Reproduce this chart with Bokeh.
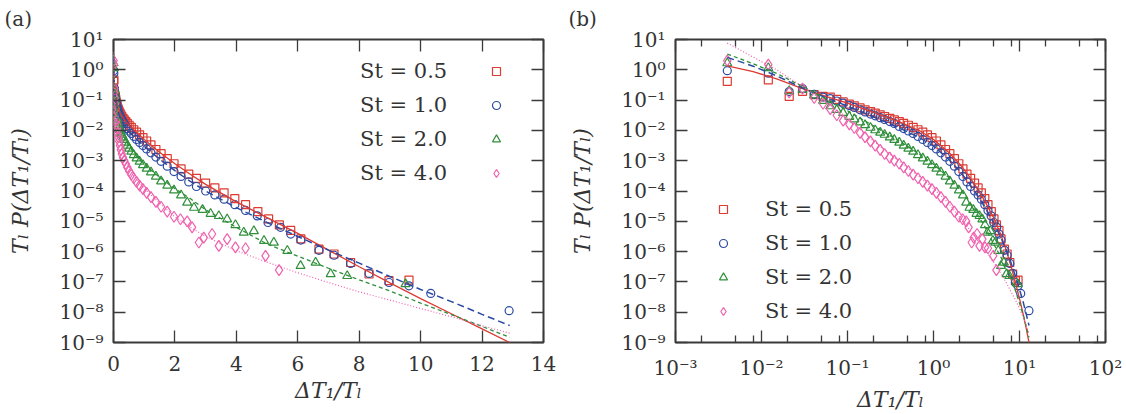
from bokeh.plotting import figure
from bokeh.models import (Range1d, FixedTicker, LinearAxis, LogAxis, Legend, LegendItem,
                          CustomJSTickFormatter, Title)
from bokeh.layouts import row
from bokeh.embed import file_html
from bokeh.resources import INLINE

# ---------------- data ----------------
series_labels = ["St = 0.5", "St = 1.0", "St = 2.0", "St = 4.0"]

x_small = [0.004, 0.012, 0.021, 0.030, 0.041, 0.052, 0.063, 0.075, 0.089, 0.105,
           0.12, 0.14, 0.16, 0.185, 0.21, 0.24, 0.27, 0.31, 0.35, 0.40,
           0.45, 0.51, 0.58, 0.66, 0.75, 0.85, 0.96, 1.08, 1.22, 1.38,
           1.55, 1.75, 1.97]

x_st05 = x_small + [2.2, 2.45, 2.7, 3.0, 3.3, 3.6, 3.95, 4.3, 4.7, 5.05, 5.4, 5.77,
                    6.1, 6.69, 7.18, 7.72, 8.32, 8.97, 9.62]
y_st05 = [0.417, 0.468, 0.132, 0.195, 0.151, 0.132, 0.126, 0.105, 0.0871, 0.0741,
          0.0646, 0.0550, 0.0479, 0.0417, 0.0372, 0.0324, 0.0288, 0.0251, 0.0224, 0.0195,
          0.0170, 0.0148, 0.0126, 0.0105, 8.71e-3, 7.08e-3, 5.75e-3, 4.47e-3, 3.31e-3, 2.34e-3,
          1.70e-3, 1.17e-3, 7.94e-4,
          5.37e-4, 3.63e-4, 2.63e-4, 1.82e-4, 1.26e-4, 8.71e-5, 5.62e-5, 3.55e-5, 2.09e-5,
          1.20e-5, 7.59e-6, 5.01e-6, 2.63e-6, 1.20e-6, 8.32e-7, 4.37e-7, 1.82e-7, 1.10e-7, 1.15e-7]

x_st10 = x_small + [2.2, 2.45, 2.7, 3.0, 3.3, 3.6, 3.95, 4.3, 4.68, 5.03, 5.44, 5.77,
                    6.1, 6.69, 7.18, 7.72, 8.32, 8.97, 9.62, 10.33, 12.88]
y_st10 = [0.933, 0.776, 0.191, 0.240, 0.155, 0.126, 0.112, 0.0933, 0.0794, 0.0661,
          0.0575, 0.0479, 0.0407, 0.0347, 0.0302, 0.0263, 0.0229, 0.0195, 0.0170, 0.0135,
          0.0115, 9.55e-3, 7.94e-3, 6.31e-3, 5.01e-3, 3.98e-3, 3.16e-3, 2.45e-3, 1.82e-3, 1.32e-3,
          9.55e-4, 6.61e-4, 4.37e-4,
          3.02e-4, 2.00e-4, 1.41e-4, 1.00e-4, 7.41e-5, 5.37e-5, 3.55e-5, 2.29e-5, 1.51e-5,
          9.12e-6, 6.31e-6, 3.80e-6, 2.40e-6, 1.10e-6, 7.59e-7, 4.07e-7, 1.91e-7, 9.55e-8,
          7.41e-8, 4.17e-8, 1.12e-8]

x_st20 = x_small + [2.2, 2.4, 2.62, 2.9, 3.16, 3.43, 3.70, 3.97, 4.24, 4.57, 4.9, 5.22,
                    5.66, 6.09, 6.58, 7.07, 7.61, 9.51]
y_st20 = [1.66, 1.15, 0.200, 0.219, 0.145, 0.0955, 0.0631, 0.0479, 0.0380, 0.0282,
          0.0234, 0.0186, 0.0151, 0.0123, 0.0102, 8.51e-3, 7.24e-3, 5.89e-3, 4.90e-3, 3.98e-3,
          3.16e-3, 2.51e-3, 2.00e-3, 1.55e-3, 1.20e-3, 9.33e-4, 7.24e-4, 5.50e-4, 4.17e-4, 3.02e-4,
          2.09e-4, 1.51e-4, 1.05e-4,
          7.24e-5, 4.17e-5, 2.82e-5, 2.40e-5, 1.78e-5, 1.51e-5, 1.17e-5, 7.59e-6, 4.27e-6,
          4.79e-6, 2.29e-6, 2.00e-6, 1.07e-6, 3.39e-7, 4.37e-7, 1.82e-7, 1.58e-7, 8.51e-8]

x_st40 = x_small + [2.18, 2.4, 2.56, 2.78, 2.94, 3.21, 3.43, 3.70, 3.97, 4.30, 4.95, 5.39]
y_st40 = [2.00, 1.48, 0.178, 0.240, 0.117, 0.0759, 0.0501, 0.0316, 0.0209, 0.0158,
          0.0120, 8.32e-3, 6.03e-3, 4.37e-3, 3.16e-3, 2.29e-3, 1.66e-3, 1.26e-3, 1.00e-3, 7.94e-4,
          6.03e-4, 4.57e-4, 3.47e-4, 2.63e-4, 2.00e-4, 1.51e-4, 1.15e-4, 8.71e-5, 6.31e-5, 4.37e-5,
          3.02e-5, 2.09e-5, 1.41e-5,
          1.17e-5, 1.00e-5, 6.31e-6, 2.00e-6, 2.88e-6, 3.80e-6, 1.55e-6, 2.57e-6, 1.38e-6,
          1.29e-6, 7.24e-7, 2.45e-7]

# fitted curves
x_fit = [0.004, 0.008, 0.015, 0.03, 0.06, 0.1, 0.2, 0.4, 0.7, 1.0, 1.5, 2.0, 2.5, 3.0,
         4.0, 5.0, 6.0, 7.0, 8.0, 9.0, 10.0, 11.0, 12.0, 12.9]
fit_st05 = [1.35, 0.871, 0.501, 0.240, 0.126, 0.0794, 0.0398, 0.0191, 9.55e-3, 5.01e-3,
            1.91e-3, 7.94e-4, 3.55e-4, 1.66e-4, 4.37e-5, 1.32e-5, 3.98e-6, 1.12e-6, 3.16e-7,
            9.33e-8, 2.82e-8, 8.91e-9, 2.82e-9, 1.0e-9]
fit_st10 = [2.57, 1.318, 0.631, 0.251, 0.112, 0.0631, 0.0282, 0.0120, 5.62e-3, 3.02e-3,
            1.12e-3, 4.68e-4, 2.09e-4, 1.00e-4, 2.82e-5, 9.12e-6, 3.16e-6, 1.12e-6, 4.17e-7,
            1.51e-7, 5.62e-8, 2.24e-8, 8.51e-9, 3.63e-9]
fit_st20 = [3.31, 1.585, 0.759, 0.282, 0.100, 0.0447, 0.0141, 4.47e-3, 1.58e-3, 7.59e-4,
            2.82e-4, 1.20e-4, 5.62e-5, 2.40e-5, 6.31e-6, 1.78e-6, 7.08e-7, 2.82e-7, 1.17e-7,
            5.01e-8, 2.00e-8, 8.32e-9, 3.39e-9, 1.48e-9]
fit_st40 = [7.59, 2.63, 1.00, 0.282, 0.0759, 0.0251, 4.47e-3, 9.55e-4, 2.82e-4, 1.20e-4,
            3.98e-5, 1.41e-5, 6.31e-6, 3.16e-6, 1.07e-6, 4.47e-7, 2.00e-7, 9.55e-8, 4.68e-8,
            2.51e-8, 1.32e-8, 7.08e-9, 3.55e-9, 2.04e-9]

y_ticks = [1e-9, 1e-8, 1e-7, 1e-6, 1e-5, 1e-4, 1e-3, 1e-2, 1e-1, 1e0, 1e1]
y_tick_labels = ["10⁻⁹", "10⁻⁸", "10⁻⁷", "10⁻⁶", "10⁻⁵", "10⁻⁴", "10⁻³",
                 "10⁻²", "10⁻¹", "10⁰", "10¹"]
xa_ticks = [0, 2, 4, 6, 8, 10, 12, 14]
xb_ticks = [1e-3, 1e-2, 1e-1, 1e0, 1e1, 1e2]
xb_tick_labels = ["10⁻³", "10⁻²", "10⁻¹", "10⁰", "10¹", "10²"]
xb_minor = [2e-3, 5e-3, 8e-3, 2e-2, 5e-2, 8e-2, 0.2, 0.5, 0.8, 2, 5, 8, 20, 50, 80]

x_label = "ΔT₁/Tₗ"
y_label = "Tₗ P(ΔT₁/Tₗ)"
panel_tags = ["(a)", "(b)"]

# ---------------- style ----------------
FONT = "DejaVu Serif"
TXT = "#333333"
FRAME = "#3a3a3a"
colors = ["#dc3a32", "#2b4ba3", "#2f8f3a", "#f062ae"]
markers = ["square", "circle", "triangle", "diamond"]
msizes = [8, 8, 9, 11]
dashes = ["solid", "7 4", "4 3", "1 2"]
line_widths = [1.3, 1.5, 1.3, 1.2]

xs_data = [x_st05, x_st10, x_st20, x_st40]
ys_data = [y_st05, y_st10, y_st20, y_st40]
fits = [fit_st05, fit_st10, fit_st20, fit_st40]


def style_axis(ax, labels=True):
    ax.axis_line_color = None
    ax.major_tick_in = 12
    ax.major_tick_out = 0
    ax.minor_tick_in = 7
    ax.minor_tick_out = 0
    ax.major_tick_line_color = FRAME
    ax.major_tick_line_width = 1.3
    ax.minor_tick_line_color = FRAME
    ax.minor_tick_line_width = 1.3
    ax.major_label_text_font = FONT
    ax.major_label_text_font_size = "20px"
    ax.major_label_text_color = TXT
    ax.major_label_standoff = 10
    ax.axis_label_text_font = FONT
    ax.axis_label_text_font_size = "22px"
    ax.axis_label_text_font_style = "italic"
    ax.axis_label_text_color = TXT
    if not labels:
        ax.formatter = CustomJSTickFormatter(code="return ''")
        ax.major_label_text_font_size = "0px"
        ax.major_label_standoff = 0


def build(kind):
    common = dict(width=563, height=414, y_axis_type="log",
                  y_range=Range1d(1e-9, 10), output_backend="svg",
                  toolbar_location=None, min_border_top=38, min_border_bottom=72)
    if kind == "a":
        p = figure(x_range=Range1d(0, 14), min_border_left=113, min_border_right=20, **common)
        xticker = FixedTicker(ticks=xa_ticks)
        top = LinearAxis(ticker=xticker)
        tag_offset = -109
        tag_text = panel_tags[0]
    else:
        p = figure(x_range=Range1d(1e-3, 1e2), x_axis_type="log",
                   min_border_left=112, min_border_right=21, **common)
        xticker = FixedTicker(ticks=xb_ticks, minor_ticks=xb_minor)
        top = LogAxis(ticker=xticker)
        tag_offset = -107
        tag_text = panel_tags[1]
    yticker = FixedTicker(ticks=y_ticks)
    right = LogAxis(ticker=yticker)
    p.add_layout(top, "above")
    p.add_layout(right, "right")

    xax = p.below[0]
    yax = p.left[0]
    xax.ticker = xticker
    yax.ticker = yticker
    yax.major_label_overrides = {v: s for v, s in zip(y_ticks, y_tick_labels)}
    if kind == "b":
        xax.major_label_overrides = {v: s for v, s in zip(xb_ticks, xb_tick_labels)}
    style_axis(xax)
    style_axis(yax)
    style_axis(top, labels=False)
    style_axis(right, labels=False)
    xax.major_label_standoff = 13
    yax.axis_label = y_label
    yax.axis_label_standoff = 23

    xt = Title(text=x_label, align="center", standoff=5, text_line_height=1.0,
               vertical_align="bottom", text_font=FONT, text_font_size="22px",
               text_font_style="italic", text_color=TXT)
    p.add_layout(xt, "below")

    p.title.text = tag_text
    p.title.align = "left"
    p.title.vertical_align = "top"
    p.title.offset = tag_offset
    p.title.standoff = 13
    p.title.text_line_height = 1.0
    p.title.text_font = FONT
    p.title.text_font_size = "20px"
    p.title.text_font_style = "normal"
    p.title.text_color = TXT

    p.xgrid.visible = False
    p.ygrid.visible = False
    p.outline_line_color = FRAME
    p.outline_line_width = 2
    p.outline_line_alpha = 1

    rends = []
    for xs, ys, c, m, s in zip(xs_data, ys_data, colors, markers, msizes):
        r = p.scatter(xs, ys, marker=m, size=s, line_color=c, fill_color=None, line_width=1.2)
        rends.append(r)
    for f, c, d, w in zip(fits, colors, dashes, line_widths):
        p.line(x_fit, f, line_color=c, line_dash=d, line_width=w)

    leg_common = dict(padding=0, spacing=0, margin=0, background_fill_alpha=0,
                      border_line_alpha=0, label_text_font=FONT,
                      label_text_font_size="21px", label_text_color=TXT,
                      glyph_height=34, label_height=34)
    if kind == "a":
        dummies = []
        for m in markers:
            dummies.append(p.scatter([], [], marker=m, size=1, line_alpha=0, fill_alpha=0))
        leg_text = Legend(items=[LegendItem(label=l, renderers=[d]) for l, d in zip(series_labels, dummies)],
                          location=(247, 152), glyph_width=0, label_standoff=0, **leg_common)
        leg_mark = Legend(items=[LegendItem(label=" ", renderers=[r]) for r in rends],
                          location=(373, 152), glyph_width=20, label_standoff=0, **leg_common)
        p.add_layout(leg_text)
        p.add_layout(leg_mark)
    else:
        leg = Legend(items=[LegendItem(label=l, renderers=[r]) for l, r in zip(series_labels, rends)],
                     location=(38, 14), glyph_width=20, label_standoff=32, **leg_common)
        p.add_layout(leg)
    p.background_fill_color = "white"
    p.border_fill_color = "white"
    return p


pa = build("a")
pb = build("b")
layout = row(pa, pb)
open("out.html", "w").write(file_html(layout, INLINE))
